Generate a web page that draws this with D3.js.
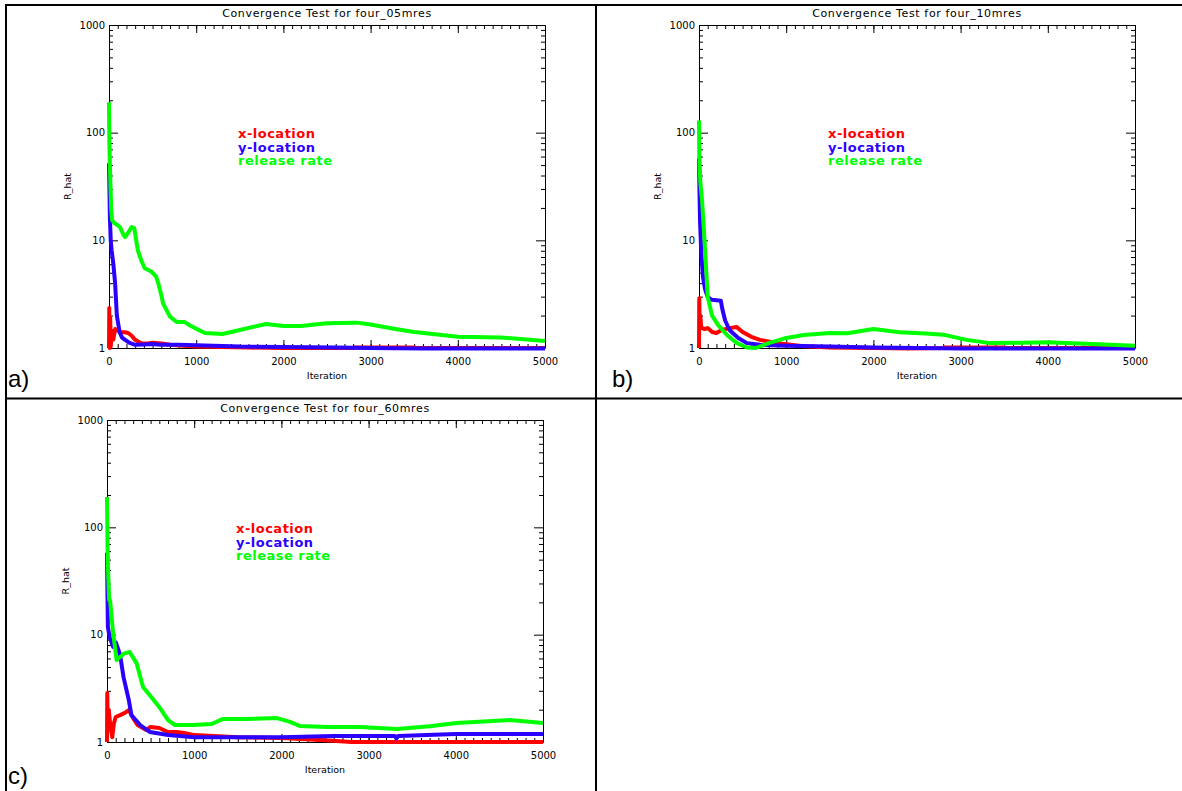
<!DOCTYPE html>
<html>
<head>
<meta charset="utf-8">
<script src="https://cdn.jsdelivr.net/npm/d3@7"></script>
<style>
body { margin: 0; background: #fff; }
</style>
</head>
<body>
<script>
/* values */
var x_ticks = [0, 1000, 2000, 3000, 4000, 5000];
var y_ticks = [1, 10, 100, 1000];
var legend_names = ["x-location", "y-location", "release rate"];
var line_colors = ["#ff0000", "#2c00ff", "#00ff00"];
var titles = ["Convergence Test for four_05mres", "Convergence Test for four_10mres", "Convergence Test for four_60mres"];
var panel_labels = ["a)", "b)", "c)"];

/* [iteration, R_hat] */
var a_xloc = [[0,1.0],[3,2.35],[8,1.0],[14,1.9],[20,1.03],[35,1.45],[50,1.2],[70,1.5],[100,1.45],[125,1.41],[180,1.4],[220,1.38],[260,1.3],[300,1.19],[350,1.13],[380,1.1],[450,1.1],[500,1.12],[600,1.1],[700,1.07],[850,1.05],[1000,1.03],[1300,1.02],[1600,1.01],[2000,1.0],[2800,1.0],[2810,1.01],[3500,1.01],[3510,1.0],[5000,1.0]];
var a_yloc = [[0,52],[5,30],[10,16.5],[20,10],[30,8.1],[50,6],[70,4.0],[90,2.0],[110,1.6],[125,1.38],[150,1.25],[185,1.19],[230,1.12],[300,1.07],[400,1.08],[490,1.09],[600,1.07],[800,1.07],[1000,1.06],[1200,1.05],[1500,1.03],[2000,1.02],[2600,1.01],[3000,1.0],[3600,0.99],[5000,0.99]];
var a_rate = [[0,192],[2,120],[4,81],[8,60],[15,36],[25,20],[35,15.4],[60,14.5],[90,14],[125,13.3],[160,11.5],[185,10.7],[220,11.8],[260,13.3],[290,13],[330,8.1],[370,6.5],[410,5.5],[490,5.1],[540,4.6],[565,4.0],[600,3.1],[620,2.6],[660,2.25],[700,1.95],[780,1.74],[870,1.74],[930,1.62],[985,1.53],[1100,1.38],[1300,1.35],[1500,1.47],[1800,1.67],[2000,1.6],[2200,1.6],[2500,1.7],[2840,1.72],[3000,1.65],[3250,1.52],[3500,1.41],[4000,1.27],[4500,1.25],[5000,1.16]];

var b_xloc = [[0,1.0],[3,2.9],[8,1.6],[15,2.0],[25,1.55],[60,1.5],[100,1.53],[150,1.41],[200,1.38],[260,1.47],[350,1.53],[430,1.57],[500,1.41],[600,1.27],[700,1.19],[900,1.11],[1200,1.04],[1500,1.01],[2000,1.0],[2400,0.99],[2800,1.0],[2810,1.01],[3500,1.01],[3510,1.0],[5000,1.0]];
var b_yloc = [[0,58],[5,30],[12,15],[25,8],[45,4.6],[70,3.5],[100,2.97],[150,2.8],[250,2.75],[270,2.25],[300,1.8],[350,1.47],[450,1.24],[550,1.11],[700,1.07],[1000,1.05],[1500,1.03],[2000,1.01],[3000,0.99],[5000,0.99]];
var b_rate = [[0,130],[3,60],[15,35],[35,23.6],[70,8.1],[100,2.97],[150,2.0],[220,1.63],[320,1.32],[435,1.11],[550,1.01],[650,1.0],[800,1.11],[1000,1.24],[1200,1.32],[1500,1.38],[1700,1.37],[2000,1.5],[2300,1.4],[2600,1.36],[2800,1.33],[3070,1.19],[3340,1.11],[3700,1.12],[4000,1.13],[4500,1.09],[5000,1.05]];

var c_xloc = [[0,1.0],[3,2.86],[10,1.3],[20,2.0],[35,1.5],[60,1.11],[80,1.5],[100,1.71],[150,1.78],[200,1.86],[250,1.98],[300,1.67],[350,1.44],[450,1.29],[500,1.38],[600,1.35],[700,1.24],[800,1.24],[900,1.21],[1000,1.16],[1500,1.11],[2000,1.09],[2500,1.04],[2800,1.0],[5000,1.0]];
var c_yloc = [[0,58],[5,25],[10,11.8],[30,9.5],[70,7.7],[100,8.5],[150,6.5],[190,4.0],[250,2.46],[280,1.78],[380,1.44],[490,1.24],[700,1.16],[1000,1.11],[2000,1.11],[2600,1.14],[3300,1.14],[3320,1.08],[3340,1.14],[4000,1.19],[5000,1.19]];
var c_rate = [[0,192],[3,120],[6,65],[12,40],[25,21],[35,21],[70,10.4],[110,5.8],[150,6.2],[200,6.7],[260,6.9],[340,5.4],[413,3.25],[512,2.6],[608,2.07],[700,1.6],[780,1.44],[990,1.44],[1200,1.47],[1330,1.64],[1600,1.64],[1950,1.67],[2100,1.54],[2210,1.41],[2520,1.38],[2900,1.38],[3325,1.32],[3700,1.4],[4010,1.5],[4620,1.6],[5000,1.5]];

var panels = [
	{left: 109, top: 25, bottom: 348, lx: 8, ly: 387, series: [a_xloc, a_yloc, a_rate]},
	{left: 699, top: 25, bottom: 348, lx: 612, ly: 387, series: [b_xloc, b_yloc, b_rate]},
	{left: 107, top: 420, bottom: 742, lx: 8, ly: 784, series: [c_xloc, c_yloc, c_rate]}
];

var svg = d3.select("body").append("svg")
	.attr("width", 1182)
	.attr("height", 791)
	.attr("style", "display: block; background: #fff;");

/* table borders */
var borders = [[5, 5, 1182, 5], [6, 4, 6, 791], [596, 4, 596, 791], [6, 398.5, 1182, 398.5]];
for (var i = 0; i < borders.length; i += 1){
	svg.append("line")
		.attr("x1", borders[i][0]).attr("y1", borders[i][1])
		.attr("x2", borders[i][2]).attr("y2", borders[i][3])
		.attr("style", "stroke: black; stroke-width: 2px;");
}

var minor_y = [];
for (var d = 1; d < 1000; d *= 10)
	for (var m = 2; m < 10; m += 1) minor_y.push(m*d);
var minor_x = d3.range(0, 5001, 100);

function draw_panel(p, idx){
	var right = p.left + 436;
	var x = d3.scaleLinear().domain([0, 5000]).range([p.left, right]);
	var y = d3.scaleLog().domain([1, 1000]).range([p.bottom, p.top]);
	var g = svg.append("g");

	function axis(make, scale, pos, major, minor, big, labels){
		var ga = g.append("g").attr("transform", pos);
		ga.call(make(scale).tickValues(major).tickSize(-big).tickSizeOuter(0).tickPadding(4)
			.tickFormat(labels ? function(v){ return String(v); } : ""));
		var gm = g.append("g").attr("transform", pos);
		gm.call(make(scale).tickValues(minor).tickSize(-4).tickSizeOuter(0).tickFormat(""));
		gm.select(".domain").remove();
		ga.selectAll("text").attr("style", "font-family: 'DejaVu Sans'; font-size: 10px; fill: black;");
		return ga;
	}
	axis(d3.axisLeft, y, "translate(" + p.left + ",0)", y_ticks, minor_y, 9, true);
	axis(d3.axisRight, y, "translate(" + right + ",0)", y_ticks, minor_y, 9, false);
	var gb = axis(d3.axisBottom, x, "translate(0," + p.bottom + ")", x_ticks, minor_x, 8, true);
	gb.selectAll("text").attr("y", 10);
	axis(d3.axisTop, x, "translate(0," + p.top + ")", x_ticks, minor_x, 8, false);

	g.append("text")
		.attr("x", (p.left + right)/2)
		.attr("y", p.top - 8)
		.attr("text-anchor", "middle")
		.attr("style", "font-family: 'DejaVu Sans'; font-size: 11px; letter-spacing: 0.65px;")
		.text(titles[idx]);
	g.append("text")
		.attr("x", (p.left + right)/2)
		.attr("y", p.bottom + 31)
		.attr("text-anchor", "middle")
		.attr("style", "font-family: 'DejaVu Sans'; font-size: 9.5px;")
		.text("Iteration");
	g.append("text")
		.attr("transform", "translate(" + (p.left - 38) + "," + ((p.top + p.bottom)/2) + ")rotate(-90)")
		.attr("text-anchor", "middle")
		.attr("style", "font-family: 'DejaVu Sans'; font-size: 9.5px;")
		.text("R_hat");

	var line = d3.line()
		.x(function(d){ return x(d[0]); })
		.y(function(d){ return y(d[1]); });
	for (var s = 0; s < p.series.length; s += 1){
		g.append("path")
			.attr("d", line(p.series[s]))
			.attr("fill", "none")
			.attr("style", "stroke: " + line_colors[s] + "; stroke-width: 4px; stroke-linejoin: round;");
	}

	for (var s = 0; s < legend_names.length; s += 1){
		g.append("text")
			.attr("x", p.left + 129)
			.attr("y", p.top + 113 + s*13.5)
			.attr("style", "font-family: 'DejaVu Sans'; font-weight: bold; font-size: 13px; letter-spacing: 0.5px; fill: " + line_colors[s] + ";")
			.text(legend_names[s]);
	}

	svg.append("text")
		.attr("x", p.lx)
		.attr("y", p.ly)
		.attr("style", "font-family: 'Liberation Sans'; font-size: 24px;")
		.text(panel_labels[idx]);
}

for (var i = 0; i < panels.length; i += 1)
	draw_panel(panels[i], i);
</script>
</body>
</html>
